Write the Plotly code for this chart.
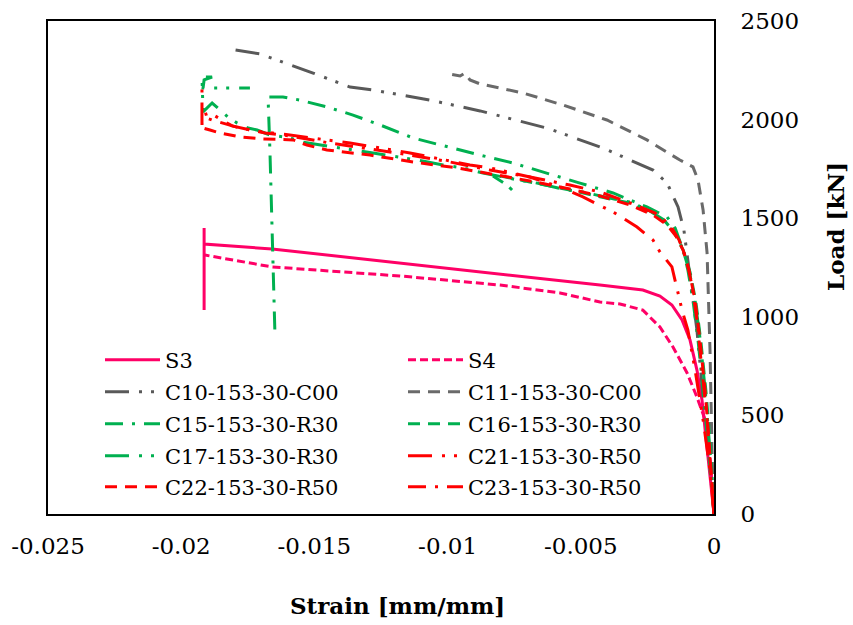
import plotly.graph_objects as go

# ---------------- data (strain [mm/mm], load [kN]) ----------------
s3_strain = [0, -0.00015, -0.00030, -0.00045, -0.00064, -0.00090, -0.00120, -0.00158, -0.00203, -0.00267,
             -0.00428, -0.00878, -0.01179, -0.01659, -0.01914, -0.01914, -0.01914]
s3_load = [0, 198, 375, 578, 730, 882, 984, 1060, 1105, 1136, 1161, 1227, 1273, 1344, 1369, 1450, 1034]

s4_strain = [0, -0.00011, -0.00026, -0.00045, -0.00064, -0.00101, -0.00154, -0.00203, -0.00267, -0.00353,
             -0.00428, -0.00578, -0.00803, -0.01179, -0.01441, -0.01659, -0.01911]
s4_load = [0, 223, 451, 527, 593, 715, 847, 948, 1034, 1065, 1075, 1121, 1161, 1207, 1232, 1253, 1313]

c10_strain = [0, -0.00011, -0.00026, -0.00041, -0.00064, -0.00086, -0.00101, -0.00113, -0.00135, -0.00176,
              -0.00229, -0.00315, -0.00417, -0.00627, -0.00878, -0.01066, -0.01280, -0.01366, -0.01505,
              -0.01704, -0.01798]
c10_load = [0, 223, 426, 593, 933, 1161, 1339, 1440, 1557, 1678, 1744, 1795, 1856, 1957, 2044, 2099, 2150,
            2165, 2236, 2333, 2353]

c11_strain = [0, -0.000075, -0.00015, -0.00023, -0.00026, -0.00034, -0.00041, -0.00060, -0.00079, -0.00128,
              -0.00252, -0.00402, -0.00567, -0.00717, -0.00878, -0.00916, -0.00935, -0.00953, -0.01010]
c11_load = [0, 325, 832, 1121, 1324, 1440, 1542, 1694, 1760, 1795, 1897, 1998, 2074, 2135, 2181, 2201, 2236,
            2221, 2236]

c15_strain = [0, -0.000075, -0.00023, -0.00041, -0.00060, -0.00079, -0.00098, -0.00116, -0.00146, -0.00176,
              -0.00252, -0.00379, -0.00503, -0.00627, -0.00755, -0.00878, -0.01002, -0.01130, -0.01254,
              -0.01355, -0.01453, -0.01554, -0.01618, -0.01674, -0.01667, -0.01659, -0.01648]
c15_load = [0, 122, 375, 629, 882, 1085, 1237, 1339, 1450, 1506, 1557, 1628, 1678, 1729, 1780, 1820, 1861,
            1907, 1973, 2023, 2064, 2099, 2115, 2115, 1846, 1440, 908]

c16_strain = [0, -0.000075, -0.00015, -0.00030, -0.00049, -0.00068, -0.00090, -0.00116, -0.00146, -0.00184,
              -0.00240, -0.00315, -0.00428, -0.00541, -0.00664, -0.00728, -0.00803, -0.00830, -0.00803,
              -0.00777, -0.00758]
c16_load = [0, 188, 365, 619, 872, 1075, 1227, 1339, 1420, 1481, 1531, 1577, 1608, 1643, 1678, 1694, 1714,
            1714, 1689, 1668, 1643]

c17_strain = [0, -0.000075, -0.000188, -0.000338, -0.000526, -0.000713, -0.000938, -0.00120, -0.00150,
              -0.00188, -0.00248, -0.00315, -0.00375, -0.00492, -0.00552, -0.00664, -0.00736, -0.00867,
              -0.00942, -0.01017, -0.01115, -0.01179, -0.01280, -0.01430, -0.01543, -0.01592, -0.01667,
              -0.01715, -0.01749, -0.01791, -0.01824, -0.01884, -0.01918, -0.01922, -0.01884, -0.01914,
              -0.01918, -0.01742]
c17_load = [0, 193, 385, 639, 892, 1085, 1237, 1354, 1430, 1491, 1542, 1582, 1597, 1633, 1643, 1678, 1694,
            1729, 1755, 1770, 1795, 1810, 1831, 1861, 1886, 1907, 1922, 1947, 1957, 1983, 2013, 2084,
            2039, 2216, 2216, 2201, 2160, 2160]

c21_strain = [0, -0.00015, -0.00041, -0.00071, -0.00098, -0.00120, -0.00135, -0.00158, -0.00203, -0.00229,
              -0.00289, -0.00372, -0.00417, -0.00492, -0.00578, -0.00691, -0.00841, -0.00916, -0.01141,
              -0.01366, -0.01592, -0.01723, -0.01809, -0.01847, -0.01892, -0.01918, -0.01922, -0.01922]
c21_load = [0, 223, 477, 730, 933, 1034, 1121, 1253, 1329, 1389, 1455, 1526, 1557, 1608, 1658, 1709, 1755,
            1770, 1831, 1881, 1922, 1942, 1968, 1998, 2034, 2023, 1973, 2186]

c22_strain = [0, -0.000075, -0.000188, -0.000338, -0.000526, -0.000713, -0.000938, -0.00116, -0.00143,
              -0.00176, -0.00229, -0.00315, -0.00428, -0.00541, -0.00691, -0.00878, -0.00965, -0.01130,
              -0.01291, -0.01453, -0.01528, -0.01580, -0.01697, -0.01779, -0.01817, -0.01854, -0.01892,
              -0.01918]
c22_load = [0, 172, 375, 629, 882, 1085, 1237, 1339, 1410, 1466, 1516, 1567, 1613, 1648, 1689, 1734, 1755,
            1785, 1820, 1846, 1871, 1897, 1902, 1912, 1922, 1932, 1947, 1957]

c23_strain = [0, -0.00011, -0.00026, -0.00045, -0.00064, -0.00083, -0.00105, -0.00131, -0.00165, -0.00221,
              -0.00315, -0.00428, -0.00541, -0.00691, -0.00841, -0.00991, -0.01141, -0.01291, -0.01441,
              -0.01592, -0.01685, -0.01779, -0.01836, -0.01884, -0.01914]
c23_load = [0, 223, 477, 730, 984, 1161, 1298, 1389, 1466, 1526, 1577, 1633, 1668, 1709, 1744, 1785, 1820,
            1851, 1881, 1917, 1932, 1957, 1978, 1998, 2013]

x_tickvals = [-0.025, -0.02, -0.015, -0.01, -0.005, 0]
x_ticktext = ["-0.025", "-0.02", "-0.015", "-0.01", "-0.005", "0"]
y_tickvals = [0, 500, 1000, 1500, 2000, 2500]

# ---------------- styles ----------------
PINK, GRAY, GRAY2, GREEN, RED = "#FF0066", "#595959", "#6A6A6A", "#00B050", "#FF0000"
DASH = "12px,8px"
SHORTDASH = "8px,4px"
DASHDOT = "18px,9px,3px,9px"
DASHDOTDOT = "24px,10px,3px,9px,3px,10px"

series = [
    ("S3", s3_strain, s3_load, PINK, "solid", "legend"),
    ("S4", s4_strain, s4_load, PINK, SHORTDASH, "legend2"),
    ("C10-153-30-C00", c10_strain, c10_load, GRAY, DASHDOTDOT, "legend3"),
    ("C11-153-30-C00", c11_strain, c11_load, GRAY2, DASH, "legend4"),
    ("C15-153-30-R30", c15_strain, c15_load, GREEN, DASHDOT, "legend5"),
    ("C16-153-30-R30", c16_strain, c16_load, GREEN, DASH, "legend6"),
    ("C17-153-30-R30", c17_strain, c17_load, GREEN, DASHDOTDOT, "legend7"),
    ("C21-153-30-R50", c21_strain, c21_load, RED, DASHDOTDOT, "legend8"),
    ("C22-153-30-R50", c22_strain, c22_load, RED, DASH, "legend9"),
    ("C23-153-30-R50", c23_strain, c23_load, RED, DASHDOT, "legend10"),
]

FONT = "DejaVu Serif"

fig = go.Figure()
for name, xs, ys, col, dash, lg in series:
    fig.add_trace(go.Scatter(x=xs, y=ys, mode="lines", name=name, legend=lg,
                             line=dict(color=col, width=3, dash=dash)))

# plot area in px: left 48, right 714, top 21, bottom 514
L, R, T, B = 48, 714, 21, 514
W, H = 853, 625
pw, ph = R - L, B - T

def px_x(px):
    return (px - L) / pw

def px_y(py):
    return (B - py) / ph

row_y = [360, 392, 424, 456, 487]
col_x = [100, 403]
legend_layouts = {}
for i in range(10):
    key = "legend" if i == 0 else f"legend{i + 1}"
    r, c = divmod(i, 2)
    legend_layouts[key] = dict(
        x=px_x(col_x[c]), y=px_y(row_y[r]), xanchor="left", yanchor="middle",
        bgcolor="rgba(0,0,0,0)", borderwidth=0, itemwidth=55,
        font=dict(family=FONT, size=21, color="black"),
    )

fig.update_layout(
    width=W, height=H,
    margin=dict(l=L, r=W - R, t=T, b=H - B, pad=0, autoexpand=False),
    paper_bgcolor="white", plot_bgcolor="white",
    showlegend=True,
    font=dict(family=FONT, color="black"),
    xaxis=dict(range=[-0.025, 0], tickvals=x_tickvals, ticktext=x_ticktext,
               showgrid=False, zeroline=False, showline=True, mirror=True,
               linecolor="black", linewidth=2, ticks="", automargin=False,
               tickfont=dict(family=FONT, size=23, color="black"),
               ticklabelstandoff=10),
    yaxis=dict(range=[0, 2500], tickvals=y_tickvals, side="right",
               showgrid=False, zeroline=False, showline=True, mirror=True,
               linecolor="black", linewidth=2, ticks="", automargin=False,
               tickfont=dict(family=FONT, size=23, color="black"),
               ticklabelstandoff=20),
    annotations=[
        dict(text="<b>Strain [mm/mm]</b>", xref="paper", yref="paper",
             x=px_x(397), y=px_y(605), xanchor="center", yanchor="middle",
             showarrow=False, font=dict(family=FONT, size=23, color="black")),
        dict(text="<b>Load [kN]</b>", xref="paper", yref="paper",
             x=px_x(836), y=px_y(227), xanchor="center", yanchor="middle",
             textangle=-90, showarrow=False,
             font=dict(family=FONT, size=23, color="black")),
    ],
    **legend_layouts,
)

fig.write_html("out.html")
